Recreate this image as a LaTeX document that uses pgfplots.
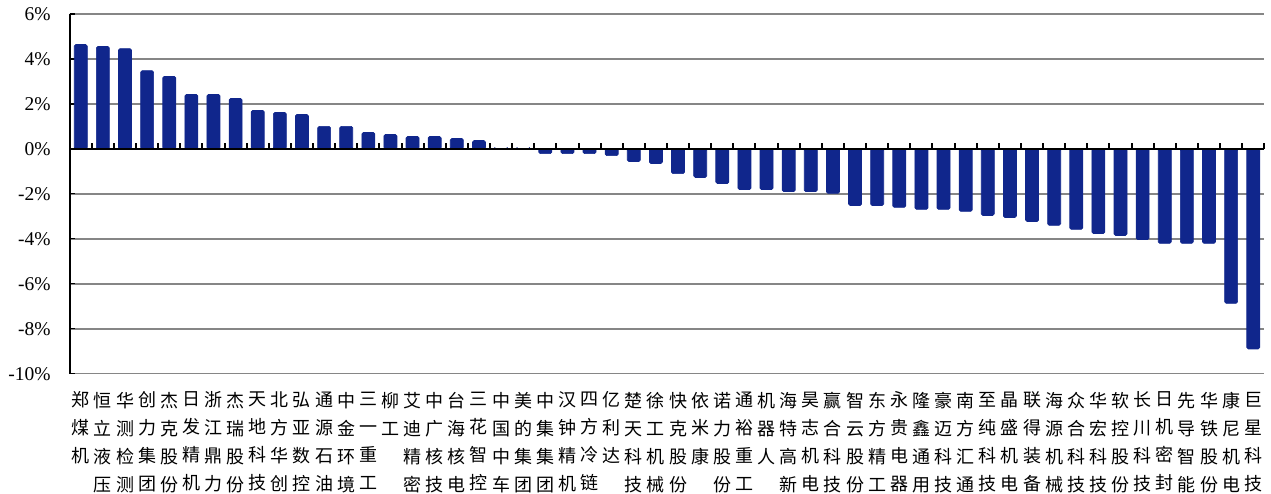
\documentclass[border=0pt]{standalone}
\usepackage{pgfplots}
\pgfplotsset{compat=1.18}
\usepackage{pgfplotstable}
\usepackage{fontspec}
\setmainfont{Liberation Serif}
\newfontfamily\cjk{Noto Sans CJK SC}

\definecolor{barblue}{RGB}{16,38,140}
\definecolor{gridgray}{RGB}{134,134,134}

% change, in %
\pgfplotstableread{
x y
1 4.64
2 4.55
3 4.46
4 3.48
5 3.22
6 2.42
7 2.42
8 2.24
9 1.71
10 1.62
11 1.53
12 1.00
13 1.00
14 0.73
15 0.64
16 0.55
17 0.55
18 0.46
19 0.37
20 0
21 0
22 -0.21
23 -0.21
24 -0.21
25 -0.30
26 -0.56
27 -0.65
28 -1.10
29 -1.27
30 -1.54
31 -1.81
32 -1.81
33 -1.90
34 -1.90
35 -1.98
36 -2.52
37 -2.52
38 -2.60
39 -2.69
40 -2.69
41 -2.78
42 -2.96
43 -3.05
44 -3.23
45 -3.40
46 -3.58
47 -3.76
48 -3.85
49 -4.03
50 -4.20
51 -4.20
52 -4.20
53 -6.87
54 -8.90
}\chg

\begin{document}
\begin{tikzpicture}
\useasboundingbox (0,0) rectangle (1271pt,494pt);

\begin{axis}[
    at={(69.7pt,120.3pt)}, anchor=south west,
    width=1194.6pt, height=359.7pt, scale only axis,
    xmin=0.5, xmax=54.5, ymin=-10, ymax=6,
    axis x line=bottom, axis y line=left,
    axis line style={-},
    x axis line style={draw=none},
    y axis line style={black, line width=1.6pt},
    xtick={1,...,54},
    major x tick style={draw=none},
    xticklabels={{郑\\煤\\机},{恒\\立\\液\\压},{华\\测\\检\\测},{创\\力\\集\\团},{杰\\克\\股\\份},{日\\发\\精\\机},{浙\\江\\鼎\\力},{杰\\瑞\\股\\份},{天\\地\\科\\技},{北\\方\\华\\创},{弘\\亚\\数\\控},{通\\源\\石\\油},{中\\金\\环\\境},{三\\一\\重\\工},{柳\\工},{艾\\迪\\精\\密},{中\\广\\核\\技},{台\\海\\核\\电},{三\\花\\智\\控},{中\\国\\中\\车},{美\\的\\集\\团},{中\\集\\集\\团},{汉\\钟\\精\\机},{四\\方\\冷\\链},{亿\\利\\达},{楚\\天\\科\\技},{徐\\工\\机\\械},{快\\克\\股\\份},{依\\米\\康},{诺\\力\\股\\份},{通\\裕\\重\\工},{机\\器\\人},{海\\特\\高\\新},{昊\\志\\机\\电},{赢\\合\\科\\技},{智\\云\\股\\份},{东\\方\\精\\工},{永\\贵\\电\\器},{隆\\鑫\\通\\用},{豪\\迈\\科\\技},{南\\方\\汇\\通},{至\\纯\\科\\技},{晶\\盛\\机\\电},{联\\得\\装\\备},{海\\源\\机\\械},{众\\合\\科\\技},{华\\宏\\科\\技},{软\\控\\股\\份},{长\\川\\科\\技},{日\\机\\密\\封},{先\\导\\智\\能},{华\\铁\\股\\份},{康\\尼\\机\\电},{巨\\星\\科\\技}},
    xticklabel style={anchor=north, align=center, inner sep=0pt, yshift=-13pt,
        font={\cjk\fontsize{18pt}{28pt}\selectfont}},
    ytick={-10,-8,-6,-4,-2,0,2,4,6},
    yticklabels={-10\%,-8\%,-6\%,-4\%,-2\%,0\%,2\%,4\%,6\%},
    yticklabel style={anchor=east, inner sep=0pt, xshift=-19pt, font=\fontsize{19.5pt}{21pt}\selectfont},
    major y tick style={black, line width=1.2pt},
    major tick length=5pt, tick align=inside,
    ymajorgrids, grid style={gridgray, line width=1.6pt},
    ybar, bar width=13pt,
]
\addplot[fill=barblue, draw=barblue, line width=0.7pt, rounded corners=1.5pt] table[x=x,y=y] {\chg};
\end{axis}

% zero line (bottom edge of this overlay axis) with small ticks at the category borders
\begin{axis}[
    at={(69.7pt,345.1pt)}, anchor=south west,
    width=1194.6pt, height=134.9pt, scale only axis,
    xmin=0.5, xmax=54.5, ymin=0, ymax=6,
    axis x line=bottom, axis y line=none,
    axis line style={-},
    x axis line style={black, line width=2pt},
    xtick={0.5,1.5,...,54.5}, xticklabels={},
    ytick=\empty,
    major x tick style={black, line width=2pt},
    major tick length=6pt, tick align=inside,
]
\end{axis}
\end{tikzpicture}
\end{document}
